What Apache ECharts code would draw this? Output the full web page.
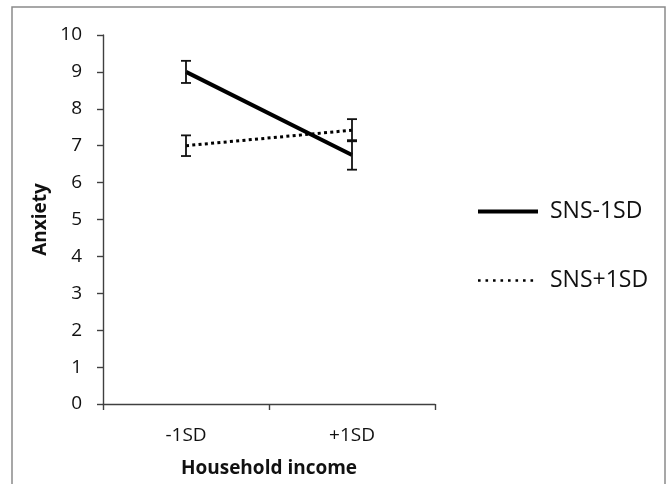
<!DOCTYPE html>
<html>
<head>
<meta charset="utf-8">
<script src="https://cdn.jsdelivr.net/npm/echarts@6/dist/echarts.min.js"></script>
<style>
  html, body { margin: 0; padding: 0; background: #fff; }
  #chart { width: 669px; height: 484px; }
</style>
</head>
<body>
<div id="chart"></div>
<script>
// Household income groups on the x axis
const categories = ['-1SD', '+1SD'];

// Mean anxiety for each SNS group, with error half-widths
const snsMinus = [9.0, 6.75];
const snsMinusErr = [0.3, 0.4];
const snsPlus = [7.0, 7.42];
const snsPlusErr = [0.28, 0.3];

const yTicks = { min: 0, max: 10, interval: 1 };

const FONT = 'Open Sans';

function errorRows(means, errs) {
  return means.map((m, i) => [i, m - errs[i], m + errs[i]]);
}

function renderErrorBar(params, api) {
  const lo = api.coord([api.value(0), api.value(1)]);
  const hi = api.coord([api.value(0), api.value(2)]);
  const hw = 5;
  const style = { stroke: '#111', lineWidth: 1.8 };
  return {
    type: 'group',
    children: [
      { type: 'line', shape: { x1: lo[0], y1: lo[1], x2: hi[0], y2: hi[1] }, style },
      { type: 'line', shape: { x1: hi[0] - hw, y1: hi[1], x2: hi[0] + hw, y2: hi[1] }, style },
      { type: 'line', shape: { x1: lo[0] - hw, y1: lo[1], x2: lo[0] + hw, y2: lo[1] }, style }
    ]
  };
}

const chart = echarts.init(document.getElementById('chart'), null, { renderer: 'canvas' });

chart.setOption({
  backgroundColor: '#fff',
  animation: false,
  textStyle: { fontFamily: FONT },
  graphic: [{
    type: 'rect',
    shape: { x: 12, y: 7, width: 653, height: 490 },
    style: { fill: 'none', stroke: '#8a8a8a', lineWidth: 1.5 },
    silent: true
  }],
  grid: { left: 103, right: 234, top: 35, bottom: 80 },
  legend: {
    orient: 'vertical',
    left: 471,
    top: 195,
    itemWidth: 60,
    itemHeight: 14,
    itemGap: 46,
    itemStyle: { opacity: 0 },
    formatter: name => '{t|' + name + '}',
    textStyle: {
      fontFamily: FONT, fontSize: 23, color: '#111',
      rich: { t: { fontFamily: FONT, fontSize: 23, color: '#111', lineHeight: 24, padding: [0, 0, 0, 7] } }
    },
    data: [
      { name: 'SNS-1SD', itemStyle: { opacity: 0 }, lineStyle: { width: 4, type: 'solid', color: '#000' } },
      { name: 'SNS+1SD', itemStyle: { opacity: 0 }, lineStyle: { width: 2.6, type: [2.6, 4.9], color: '#000' } }
    ]
  },
  xAxis: {
    type: 'category',
    data: categories,
    boundaryGap: true,
    name: 'Household income',
    nameLocation: 'middle',
    nameGap: 55,
    nameTextStyle: { fontFamily: FONT, fontSize: 19, fontWeight: 'bold', color: '#111' },
    axisLine: { lineStyle: { color: '#404040', width: 1.4 } },
    axisTick: { show: true, length: 6, alignWithLabel: false, lineStyle: { color: '#404040', width: 1.4 } },
    axisLabel: { margin: 22, fontFamily: FONT, fontSize: 19, color: '#111' },
    splitLine: { show: false }
  },
  yAxis: {
    type: 'value',
    min: yTicks.min,
    max: yTicks.max,
    interval: yTicks.interval,
    name: 'Anxiety',
    nameLocation: 'middle',
    nameRotate: 90,
    nameGap: 53,
    nameTextStyle: { fontFamily: FONT, fontSize: 19, fontWeight: 'bold', color: '#111' },
    axisLine: { show: true, lineStyle: { color: '#404040', width: 1.4 } },
    axisTick: { show: true, length: 6, lineStyle: { color: '#404040', width: 1.4 } },
    axisLabel: { margin: 21, fontFamily: FONT, fontSize: 19, color: '#111' },
    splitLine: { show: false }
  },
  series: [
    {
      name: 'SNS-1SD',
      type: 'line',
      data: snsMinus,
      symbol: 'none',
      lineStyle: { color: '#000', width: 4 },
      itemStyle: { color: '#000' },
      z: 3
    },
    {
      name: 'SNS+1SD',
      type: 'line',
      data: snsPlus,
      symbol: 'none',
      lineStyle: { color: '#000', width: 3, type: [3, 3.3] },
      itemStyle: { color: '#000' },
      z: 3
    },
    {
      type: 'custom',
      renderItem: renderErrorBar,
      data: errorRows(snsMinus, snsMinusErr),
      encode: { x: 0, y: [1, 2] },
      z: 4
    },
    {
      type: 'custom',
      renderItem: renderErrorBar,
      data: errorRows(snsPlus, snsPlusErr),
      encode: { x: 0, y: [1, 2] },
      z: 4
    }
  ]
});
</script>
</body>
</html>
